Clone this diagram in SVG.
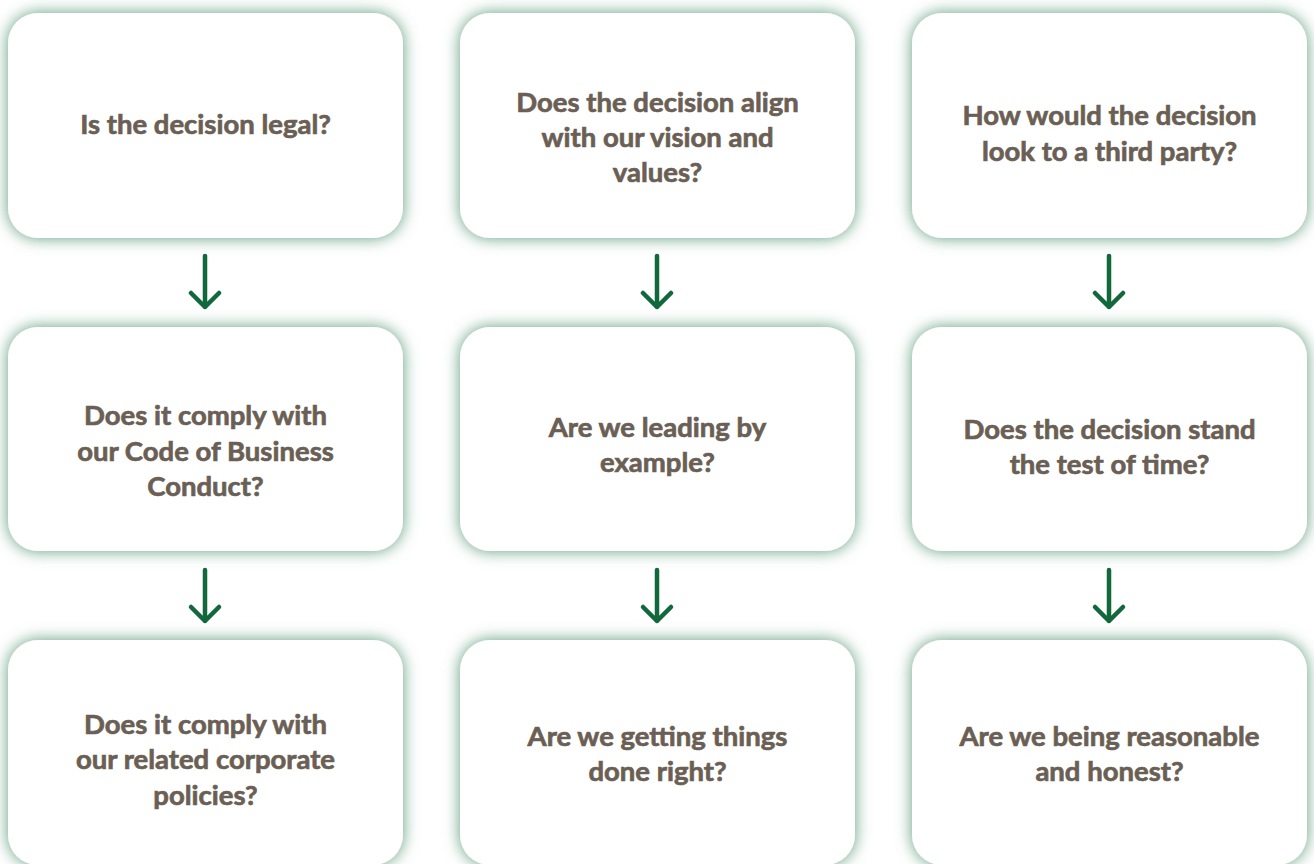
<svg xmlns="http://www.w3.org/2000/svg" width="1314" height="864" viewBox="0 0 1314 864">
  <defs>
    <filter id="glow" x="-10%" y="-15%" width="120%" height="130%">
      <feGaussianBlur in="SourceAlpha" stdDeviation="8" result="b"/>
      <feFlood flood-color="#5d9c7c" flood-opacity="1"/>
      <feComposite in2="b" operator="in" result="g"/>
      <feMerge>
        <feMergeNode in="g"/>
        <feMergeNode in="SourceGraphic"/>
      </feMerge>
    </filter>
    <style>
      .box { fill: #ffffff; filter: url(#glow); }
      .lbl { font-family: Lato, "Liberation Sans", sans-serif; font-weight: bold; font-size: 27.5px; fill: #6b5f55; stroke: #6b5f55; stroke-width: 0.7; text-anchor: middle; }
      .arr { fill: none; stroke: #11683b; stroke-width: 4.5; stroke-linecap: round; stroke-linejoin: round; }
    </style>
  </defs>

  <g id="n1"><rect class="box" x="8" y="13" width="395" height="225" rx="30"/>
    <text class="lbl" x="205.5" y="134">Is the decision legal?</text></g>
  <g id="n2"><rect class="box" x="460" y="13" width="395" height="225" rx="30"/>
    <text class="lbl" x="657.5" y="112">Does the decision align</text>
    <text class="lbl" x="657.5" y="147">with our vision and</text>
    <text class="lbl" x="657.5" y="182">values?</text></g>
  <g id="n3"><rect class="box" x="912" y="13" width="395" height="225" rx="30"/>
    <text class="lbl" x="1109.5" y="125">How would the decision</text>
    <text class="lbl" x="1109.5" y="161">look to a third party?</text></g>

  <g id="n4"><rect class="box" x="8" y="327" width="395" height="224" rx="30"/>
    <text class="lbl" x="205.5" y="425">Does it comply with</text>
    <text class="lbl" x="205.5" y="461">our Code of Business</text>
    <text class="lbl" x="205.5" y="496">Conduct?</text></g>
  <g id="n5"><rect class="box" x="460" y="327" width="395" height="224" rx="30"/>
    <text class="lbl" x="657.5" y="437">Are we leading by</text>
    <text class="lbl" x="657.5" y="472">example?</text></g>
  <g id="n6"><rect class="box" x="912" y="327" width="395" height="224" rx="30"/>
    <text class="lbl" x="1109.5" y="439">Does the decision stand</text>
    <text class="lbl" x="1109.5" y="474">the test of time?</text></g>

  <g id="n7"><rect class="box" x="8" y="640" width="395" height="225" rx="30"/>
    <text class="lbl" x="205.5" y="734">Does it comply with</text>
    <text class="lbl" x="205.5" y="769">our related corporate</text>
    <text class="lbl" x="205.5" y="805">policies?</text></g>
  <g id="n8"><rect class="box" x="460" y="640" width="395" height="225" rx="30"/>
    <text class="lbl" x="657.5" y="746">Are we getting things</text>
    <text class="lbl" x="657.5" y="781">done right?</text></g>
  <g id="n9"><rect class="box" x="912" y="640" width="395" height="225" rx="30"/>
    <text class="lbl" x="1109.5" y="746">Are we being reasonable</text>
    <text class="lbl" x="1109.5" y="781">and honest?</text></g>

  <g id="connectors">
    <path class="arr" d="M205 256 V307 M191 293 L205 307 L219 293"/>
    <path class="arr" d="M657 256 V307 M643 293 L657 307 L671 293"/>
    <path class="arr" d="M1109 256 V307 M1095 293 L1109 307 L1123 293"/>
    <path class="arr" d="M205 570 V621 M191 607 L205 621 L219 607"/>
    <path class="arr" d="M657 570 V621 M643 607 L657 621 L671 607"/>
    <path class="arr" d="M1109 570 V621 M1095 607 L1109 621 L1123 607"/>
  </g>
</svg>
